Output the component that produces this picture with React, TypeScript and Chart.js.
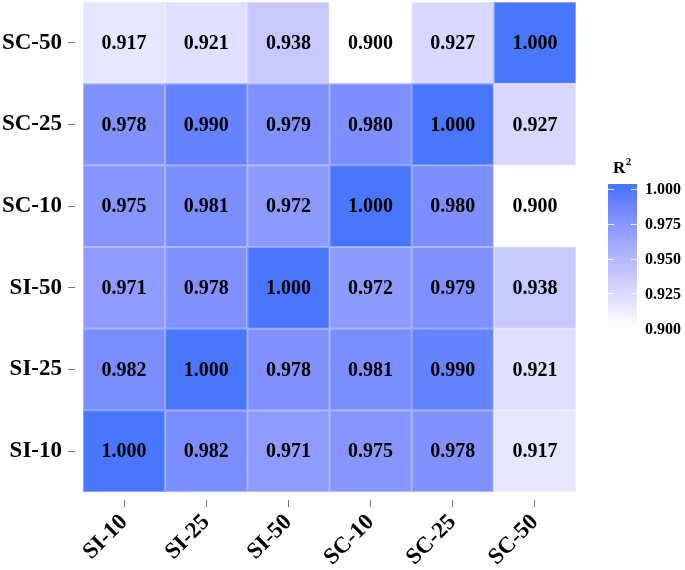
import { useEffect, useRef } from "react";
import { Chart, registerables } from "chart.js";
Chart.register(...registerables);

const xLabels = ["SI-10", "SI-25", "SI-50", "SC-10", "SC-25", "SC-50"];
const yLabels = ["SI-10", "SI-25", "SI-50", "SC-10", "SC-25", "SC-50"]; // bottom to top
const rowSI10 = [1.0, 0.982, 0.971, 0.975, 0.978, 0.917];
const rowSI25 = [0.982, 1.0, 0.978, 0.981, 0.99, 0.921];
const rowSI50 = [0.971, 0.978, 1.0, 0.972, 0.979, 0.938];
const rowSC10 = [0.975, 0.981, 0.972, 1.0, 0.98, 0.9];
const rowSC25 = [0.978, 0.99, 0.979, 0.98, 1.0, 0.927];
const rowSC50 = [0.917, 0.921, 0.938, 0.9, 0.927, 1.0];
const rows = [rowSI10, rowSI25, rowSI50, rowSC10, rowSC25, rowSC50];
const legendTicks = [0.9, 0.925, 0.95, 0.975, 1.0];
const scaleMin = 0.9;
const scaleMax = 1.0;
const lowColor = [255, 255, 255];
const highColor = [72, 118, 255];

const FONT = "'Liberation Serif', 'Times New Roman', serif";

function toLin(c: number) {
  c /= 255;
  return c <= 0.04045 ? c / 12.92 : Math.pow((c + 0.055) / 1.055, 2.4);
}
function fromLin(c: number) {
  const v = c <= 0.0031308 ? 12.92 * c : 1.055 * Math.pow(c, 1 / 2.4) - 0.055;
  return Math.max(0, Math.min(255, Math.round(v * 255)));
}
const Xn = 0.95047, Yn = 1.0, Zn = 1.08883;
function f(t: number) {
  return t > 0.008856 ? Math.cbrt(t) : 7.787 * t + 16 / 116;
}
function finv(t: number) {
  const t3 = t * t * t;
  return t3 > 0.008856 ? t3 : (t - 16 / 116) / 7.787;
}
function rgbToLab(rgb: number[]) {
  const r = toLin(rgb[0]), g = toLin(rgb[1]), b = toLin(rgb[2]);
  const X = 0.4124 * r + 0.3576 * g + 0.1805 * b;
  const Y = 0.2126 * r + 0.7152 * g + 0.0722 * b;
  const Z = 0.0193 * r + 0.1192 * g + 0.9505 * b;
  const fx = f(X / Xn), fy = f(Y / Yn), fz = f(Z / Zn);
  return [116 * fy - 16, 500 * (fx - fy), 200 * (fy - fz)];
}
function labToRgb(lab: number[]) {
  const fy = (lab[0] + 16) / 116;
  const fx = fy + lab[1] / 500;
  const fz = fy - lab[2] / 200;
  const X = Xn * finv(fx), Y = Yn * finv(fy), Z = Zn * finv(fz);
  const r = 3.2406 * X - 1.5372 * Y - 0.4986 * Z;
  const g = -0.9689 * X + 1.8758 * Y + 0.0415 * Z;
  const b = 0.0557 * X - 0.204 * Y + 1.057 * Z;
  return [fromLin(r), fromLin(g), fromLin(b)];
}
const labLow = rgbToLab(lowColor);
const labHigh = rgbToLab(highColor);
function colorFor(v: number) {
  const t = Math.max(0, Math.min(1, (v - scaleMin) / (scaleMax - scaleMin)));
  const lab = labLow.map((l, i) => l + (labHigh[i] - l) * t);
  const c = labToRgb(lab);
  return `rgb(${c[0]},${c[1]},${c[2]})`;
}

const cellPlugin = {
  id: "cellPlugin",
  afterDatasetsDraw(chart: any) {
    const ctx = chart.ctx;
    ctx.save();
    ctx.strokeStyle = "rgba(255,255,255,0.35)";
    ctx.lineWidth = 1;
    chart.data.datasets.forEach((ds: any, i: number) => {
      const meta = chart.getDatasetMeta(i);
      meta.data.forEach((bar: any) => {
        const { x, y, base, width } = bar;
        ctx.strokeRect(x - width / 2 + 0.5, Math.min(y, base) + 0.5, width - 1, Math.abs(base - y) - 1);
      });
    });
    ctx.fillStyle = "#000";
    ctx.font = `bold 20px ${FONT}`;
    ctx.textAlign = "center";
    ctx.textBaseline = "middle";
    chart.data.datasets.forEach((ds: any, i: number) => {
      const meta = chart.getDatasetMeta(i);
      meta.data.forEach((bar: any, j: number) => {
        const v = ds.values[j];
        ctx.fillText(v.toFixed(3), bar.x, (bar.y + bar.base) / 2 + 1);
      });
    });
    ctx.restore();
  },
  afterDraw(chart: any) {
    const ctx = chart.ctx;
    ctx.save();
    const barLeft = 608;
    const barW = 29;
    const yTop = 188.5;
    const yBot = 328.5;
    const ext = 4.5;
    const valToY = (v: number) => yBot - ((v - scaleMin) / (scaleMax - scaleMin)) * (yBot - yTop);
    const grad = ctx.createLinearGradient(0, yTop, 0, yBot);
    for (let k = 0; k <= 20; k++) {
      const v = scaleMax - (k / 20) * (scaleMax - scaleMin);
      grad.addColorStop(k / 20, colorFor(v));
    }
    ctx.fillStyle = grad;
    ctx.fillRect(barLeft, yTop - ext, barW, yBot - yTop + 2 * ext);
    ctx.strokeStyle = "rgba(255,255,255,0.85)";
    ctx.lineWidth = 1;
    legendTicks.forEach((v) => {
      const y = Math.round(valToY(v)) + 0.5;
      ctx.beginPath();
      ctx.moveTo(barLeft, y);
      ctx.lineTo(barLeft + 6, y);
      ctx.moveTo(barLeft + barW - 6, y);
      ctx.lineTo(barLeft + barW, y);
      ctx.stroke();
    });
    ctx.fillStyle = "#000";
    ctx.font = `bold 16px ${FONT}`;
    ctx.textAlign = "left";
    ctx.textBaseline = "middle";
    legendTicks.forEach((v) => {
      ctx.fillText(v.toFixed(3), 645, valToY(v) + 1);
    });
    ctx.font = `bold 17px ${FONT}`;
    ctx.textBaseline = "alphabetic";
    ctx.fillText("R", 613, 173);
    const rw = ctx.measureText("R").width;
    ctx.font = `bold 11px ${FONT}`;
    ctx.fillText("2", 613 + rw + 0.5, 165);
    ctx.restore();
  },
};

export default function App() {
  const ref = useRef<HTMLCanvasElement | null>(null);
  useEffect(() => {
    if (!ref.current) return;
    const datasets = rows.map((row, r) => ({
      label: yLabels[r],
      data: row.map(() => 1),
      values: row,
      backgroundColor: row.map((v) => colorFor(v)),
      borderWidth: 0,
      barPercentage: 1,
      categoryPercentage: 1,
    }));
    const chart = new Chart(ref.current, {
      type: "bar",
      data: { labels: xLabels, datasets: datasets as any },
      options: {
        animation: false,
        responsive: false,
        maintainAspectRatio: false,
        layout: { padding: { top: 2, right: 109, left: 0, bottom: 0 } },
        plugins: { legend: { display: false }, tooltip: { enabled: false } },
        scales: {
          x: {
            type: "category",
            stacked: true,
            offset: true,
            border: { display: false },
            grid: {
              offset: false,
              drawOnChartArea: false,
              tickLength: 15,
              tickColor: "#777",
              tickWidth: 1,
              tickBorderDash: [7, 8],
              tickBorderDashOffset: 7,
            },
            ticks: {
              color: "#000",
              font: { family: FONT, size: 23, weight: "bold" },
              maxRotation: 45,
              minRotation: 45,
              padding: 2,
              autoSkip: false,
            },
            afterFit(scale: any) {
              scale.height = 78;
              scale.paddingLeft = 0;
              scale.paddingRight = 0;
            },
          },
          y: {
            type: "linear",
            stacked: true,
            min: 0,
            max: 6,
            border: { display: false },
            grid: {
              drawOnChartArea: false,
              tickLength: 15,
              tickColor: "#777",
              tickWidth: 1,
              tickBorderDash: [7, 30],
              tickBorderDashOffset: 0,
            },
            afterBuildTicks(scale: any) {
              scale.ticks = yLabels.map((_, i) => ({ value: i + 0.5 }));
            },
            ticks: {
              color: "#000",
              font: { family: FONT, size: 23, weight: "bold" },
              padding: 6,
              callback: (_v: any, i: number) => yLabels[i],
            },
            afterFit(scale: any) {
              scale.width = 83;
              scale.paddingTop = 0;
              scale.paddingBottom = 0;
            },
          },
        },
      } as any,
      plugins: [cellPlugin],
    });
    return () => chart.destroy();
  }, []);
  return (
    <div style={{ position: "absolute", left: 0, top: 0, width: 685, height: 570, background: "#fff" }}>
      <canvas ref={ref} width={685} height={570} style={{ width: 685, height: 570, display: "block" }} />
    </div>
  );
}
